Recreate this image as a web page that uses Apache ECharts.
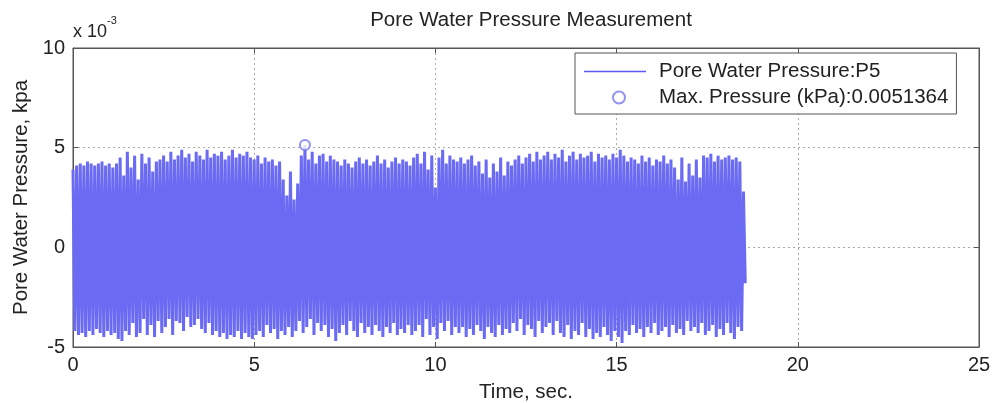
<!DOCTYPE html>
<html>
<head>
<meta charset="utf-8">
<title>Pore Water Pressure Measurement</title>
<script src="https://cdn.jsdelivr.net/npm/echarts@6/dist/echarts.min.js"></script>
<style>
  html, body { margin: 0; padding: 0; background: #fff; }
  #main { width: 992px; height: 403px; }
</style>
</head>
<body>
<div id="main"></div>
<script>
// sample step of the record, seconds (one oscillation per step)
var dt = 0.1;

// peak values of each cycle, x 10^-3 kPa
var peakHigh = [
  3.9, 4.1, 4.2, 4.1, 4.3, 4.2, 4.1, 4.2, 4.3, 4.1, 4.2, 4.0, 4.2,
  4.5, 3.6, 4.8, 4.0, 4.6, 3.4, 4.7, 4.2, 4.5, 3.8, 4.3, 4.4,
  4.6, 4.3, 4.8, 4.4, 4.6, 4.9, 4.5, 4.7, 4.3, 4.8, 4.6, 4.4, 4.9, 4.5, 4.7, 4.6, 4.8, 4.4, 4.6, 4.9, 4.5, 4.7, 4.6, 4.8, 4.5,
  4.4, 4.6, 4.2, 4.5, 4.3, 4.4, 4.1, 4.3,
  3.4, 2.6, 3.8, 2.4, 3.2, 4.6,
  5.1364, 4.4, 4.8, 4.2, 4.6, 4.7, 4.3, 4.6, 4.4,
  4.3, 4.1, 4.4, 4.2, 4.0, 4.3, 4.5, 4.2, 4.4, 4.1, 4.3, 4.6, 4.2, 4.4, 4.0, 4.3, 4.5, 4.2, 4.4, 4.3, 4.1, 4.5,
  4.7, 4.2, 4.8, 3.9, 4.6, 3.0, 4.5, 4.9, 4.2, 4.6, 4.4,
  4.3, 4.5, 4.2, 4.4, 4.6, 4.1, 4.3, 3.7, 4.4, 3.5, 4.2, 3.8, 4.5, 3.6, 4.3, 4.1, 4.4, 4.6, 4.2, 4.5, 4.7, 4.3, 4.8, 4.4,
  4.6, 4.8, 4.4, 4.7, 4.5, 4.9, 4.3, 4.6, 4.8, 4.4, 4.7, 4.5, 4.6, 4.8, 4.3, 4.7, 4.5, 4.6, 4.4, 4.7, 4.5, 4.9,
  4.6, 4.3, 4.5, 4.4, 4.2, 4.6, 4.3, 4.5, 4.1, 4.4, 4.3, 4.6, 4.2, 4.4, 4.0, 3.4, 4.5, 3.3, 4.2, 3.6, 4.4, 3.5, 4.6,
  4.5, 4.7, 4.3, 4.6, 4.4, 4.5, 4.6, 4.4, 4.5, 4.3, 2.8
];

// trough values of each cycle, x 10^-3 kPa
var peakLow = [
  -4.2, -4.4, -4.3, -4.5, -4.2, -4.4, -4.1, -4.3, -4.5, -4.2, -4.4, -4.3, -4.6,
  -4.7, -4.2, -4.4, -3.8, -4.5, -4.3, -3.6, -4.4, -3.9, -4.5, -3.7, -4.3,
  -4.0, -3.6, -4.4, -3.7, -3.8, -4.2, -3.5, -4.0, -3.9, -3.6, -4.1, -4.3, -3.8, -4.4, -4.2, -4.5, -4.3, -4.6, -4.4, -4.5, -4.2, -4.6, -4.3, -4.5, -4.6,
  -4.4, -4.2, -4.5, -3.9, -4.3, -4.1, -4.6, -4.2,
  -4.4, -4.0, -4.5, -4.2, -3.7, -4.3,
  -4.0, -3.6, -4.4, -3.8, -4.2, -3.9, -4.5, -4.1, -4.7,
  -4.3, -3.9, -4.4, -3.7, -4.2, -4.5, -3.8, -4.3, -4.0, -4.4, -3.9, -4.2, -4.5, -4.0, -4.3, -3.8, -4.4, -4.1, -4.3, -3.9, -4.4, -4.2,
  -3.9, -4.5, -3.6, -4.4, -4.0, -4.6, -3.8, -4.2, -3.7, -4.4, -4.0,
  -4.3, -4.0, -4.5, -4.1, -4.4, -3.9, -4.2, -4.6, -4.0, -4.3, -4.5, -3.9, -4.4, -4.1, -4.3, -3.8, -4.2, -3.6, -4.4, -3.9, -4.1, -4.5, -3.7, -4.3,
  -4.0, -3.8, -4.4, -3.7, -4.3, -4.5, -3.9, -4.6, -4.2, -4.4, -3.8, -4.5, -4.1, -4.6, -4.3, -4.5, -4.0, -4.4, -4.7, -4.2, -4.5, -4.8,
  -4.2, -4.4, -3.9, -4.3, -4.1, -4.5, -4.0, -4.3, -3.8, -4.4, -4.2, -4.0, -4.5, -3.9, -4.3, -4.1, -4.4, -3.7, -4.2, -4.0, -4.3, -3.8, -4.4,
  -4.2, -3.9, -4.5, -4.1, -4.4, -3.8, -4.3, -4.6, -4.0, -4.2, -1.8
];

// maximum marker: time (s), value (x 10^-3 kPa)
var maxPoint = [6.4, 5.1364];

var xTicks = [0, 5, 10, 15, 20, 25];
var yTicks = [-5, 0, 5, 10];

var lineName = 'Pore Water Pressure:P5';
var maxName = 'Max. Pressure (kPa):0.0051364';

// build the zig-zag record: peak at t, trough half a step later
var signal = [];
for (var i = 0; i < peakHigh.length; i++) {
  var t = +(i * dt).toFixed(2);
  signal.push([t, peakHigh[i]]);
  signal.push([+(t + dt / 2).toFixed(3), peakLow[i]]);
}

var dom = document.getElementById('main');
var myChart = echarts.init(dom);

var font = 'Liberation Sans, Arial, sans-serif';
var fs = 20;
var gridLine = { show: true, lineStyle: { color: '#aaa', type: [2, 3], width: 1 } };
var frameLine = { show: true, onZero: false, lineStyle: { color: '#555' } };
var tick = { show: true, inside: true, length: 5, lineStyle: { color: '#555' } };

// legend icon: a line with blank room on its right
var lineIcon = 'path://M0,0 L0.01,0 L0.01,0.01 Z M0,5.3 L62,5.3 L62,6.7 L0,6.7 Z M70,12 L69.99,12 L69.99,11.99 Z';

var option = {
  backgroundColor: '#fff',
  animation: false,
  title: {
    text: 'Pore Water Pressure Measurement',
    left: 526,
    top: 5,
    textAlign: 'center',
    textStyle: { fontFamily: font, fontSize: 20.5, fontWeight: 'normal', color: '#222' }
  },
  legend: {
    orient: 'vertical',
    left: 575,
    top: 53,
    backgroundColor: '#fff',
    borderColor: '#555',
    borderWidth: 1,
    padding: [8, 8, 6, 9],
    itemWidth: 70,
    itemHeight: 12,
    itemGap: 5,
    textStyle: { fontFamily: font, fontSize: 20.5, color: '#222' },
    data: [
      { name: lineName, icon: lineIcon, itemStyle: { color: '#5a5af0' } },
      { name: maxName, icon: 'emptyCircle' }
    ]
  },
  grid: {
    left: 73,
    right: 13,
    top: 48,
    bottom: 56,
    show: true,
    borderColor: '#555',
    borderWidth: 1,
    containLabel: false,
    outerBoundsMode: 'none'
  },
  graphic: [{
    type: 'text',
    left: 73,
    top: 15,
    style: {
      text: '{a|x 10}{b|-3}',
      rich: {
        a: { fontFamily: font, fontSize: 18, fill: '#222', verticalAlign: 'bottom', padding: [8, 0, 0, 0] },
        b: { fontFamily: font, fontSize: 11, fill: '#222', verticalAlign: 'top' }
      }
    }
  }],
  xAxis: [{
    type: 'value',
    min: 0,
    max: 25,
    interval: 5,
    name: 'Time, sec.',
    nameLocation: 'middle',
    nameGap: 35,
    nameTextStyle: { fontFamily: font, fontSize: 20.5, color: '#222' },
    axisLine: frameLine,
    axisTick: tick,
    axisLabel: {
      fontFamily: font, fontSize: fs, color: '#222', margin: 8,
      customValues: xTicks
    },
    splitLine: gridLine
  }, {
    type: 'value',
    position: 'top',
    min: 0,
    max: 25,
    interval: 5,
    axisLine: frameLine,
    axisTick: tick,
    axisLabel: { show: false },
    splitLine: { show: false }
  }],
  yAxis: [{
    type: 'value',
    min: -5,
    max: 10,
    interval: 5,
    name: 'Pore Water Pressure, kpa',
    nameLocation: 'middle',
    nameGap: 35,
    nameTextStyle: { fontFamily: font, fontSize: 20.5, color: '#222' },
    axisLine: frameLine,
    axisTick: tick,
    axisLabel: {
      fontFamily: font, fontSize: fs, color: '#222', margin: 8,
      customValues: yTicks
    },
    splitLine: gridLine
  }, {
    type: 'value',
    position: 'right',
    min: -5,
    max: 10,
    interval: 5,
    axisLine: frameLine,
    axisTick: tick,
    axisLabel: { show: false },
    splitLine: { show: false }
  }],
  series: [{
    name: lineName,
    type: 'line',
    symbol: 'none',
    xAxisIndex: 0,
    yAxisIndex: 0,
    color: '#6a6af2',
    lineStyle: { color: '#6a6af2', width: 3, join: 'bevel' },
    data: signal
  }, {
    name: maxName,
    type: 'scatter',
    symbol: 'emptyCircle',
    symbolSize: 10,
    xAxisIndex: 0,
    yAxisIndex: 0,
    color: '#7777ee',
    itemStyle: { color: '#7777ee', borderColor: '#7777ee', borderWidth: 1.2 },
    data: [maxPoint],
    z: 5
  }]
};

if (option && typeof option === 'object') {
  myChart.setOption(option, true);
}

window.addEventListener('resize', function () {
  myChart.resize();
});
</script>
</body>
</html>
